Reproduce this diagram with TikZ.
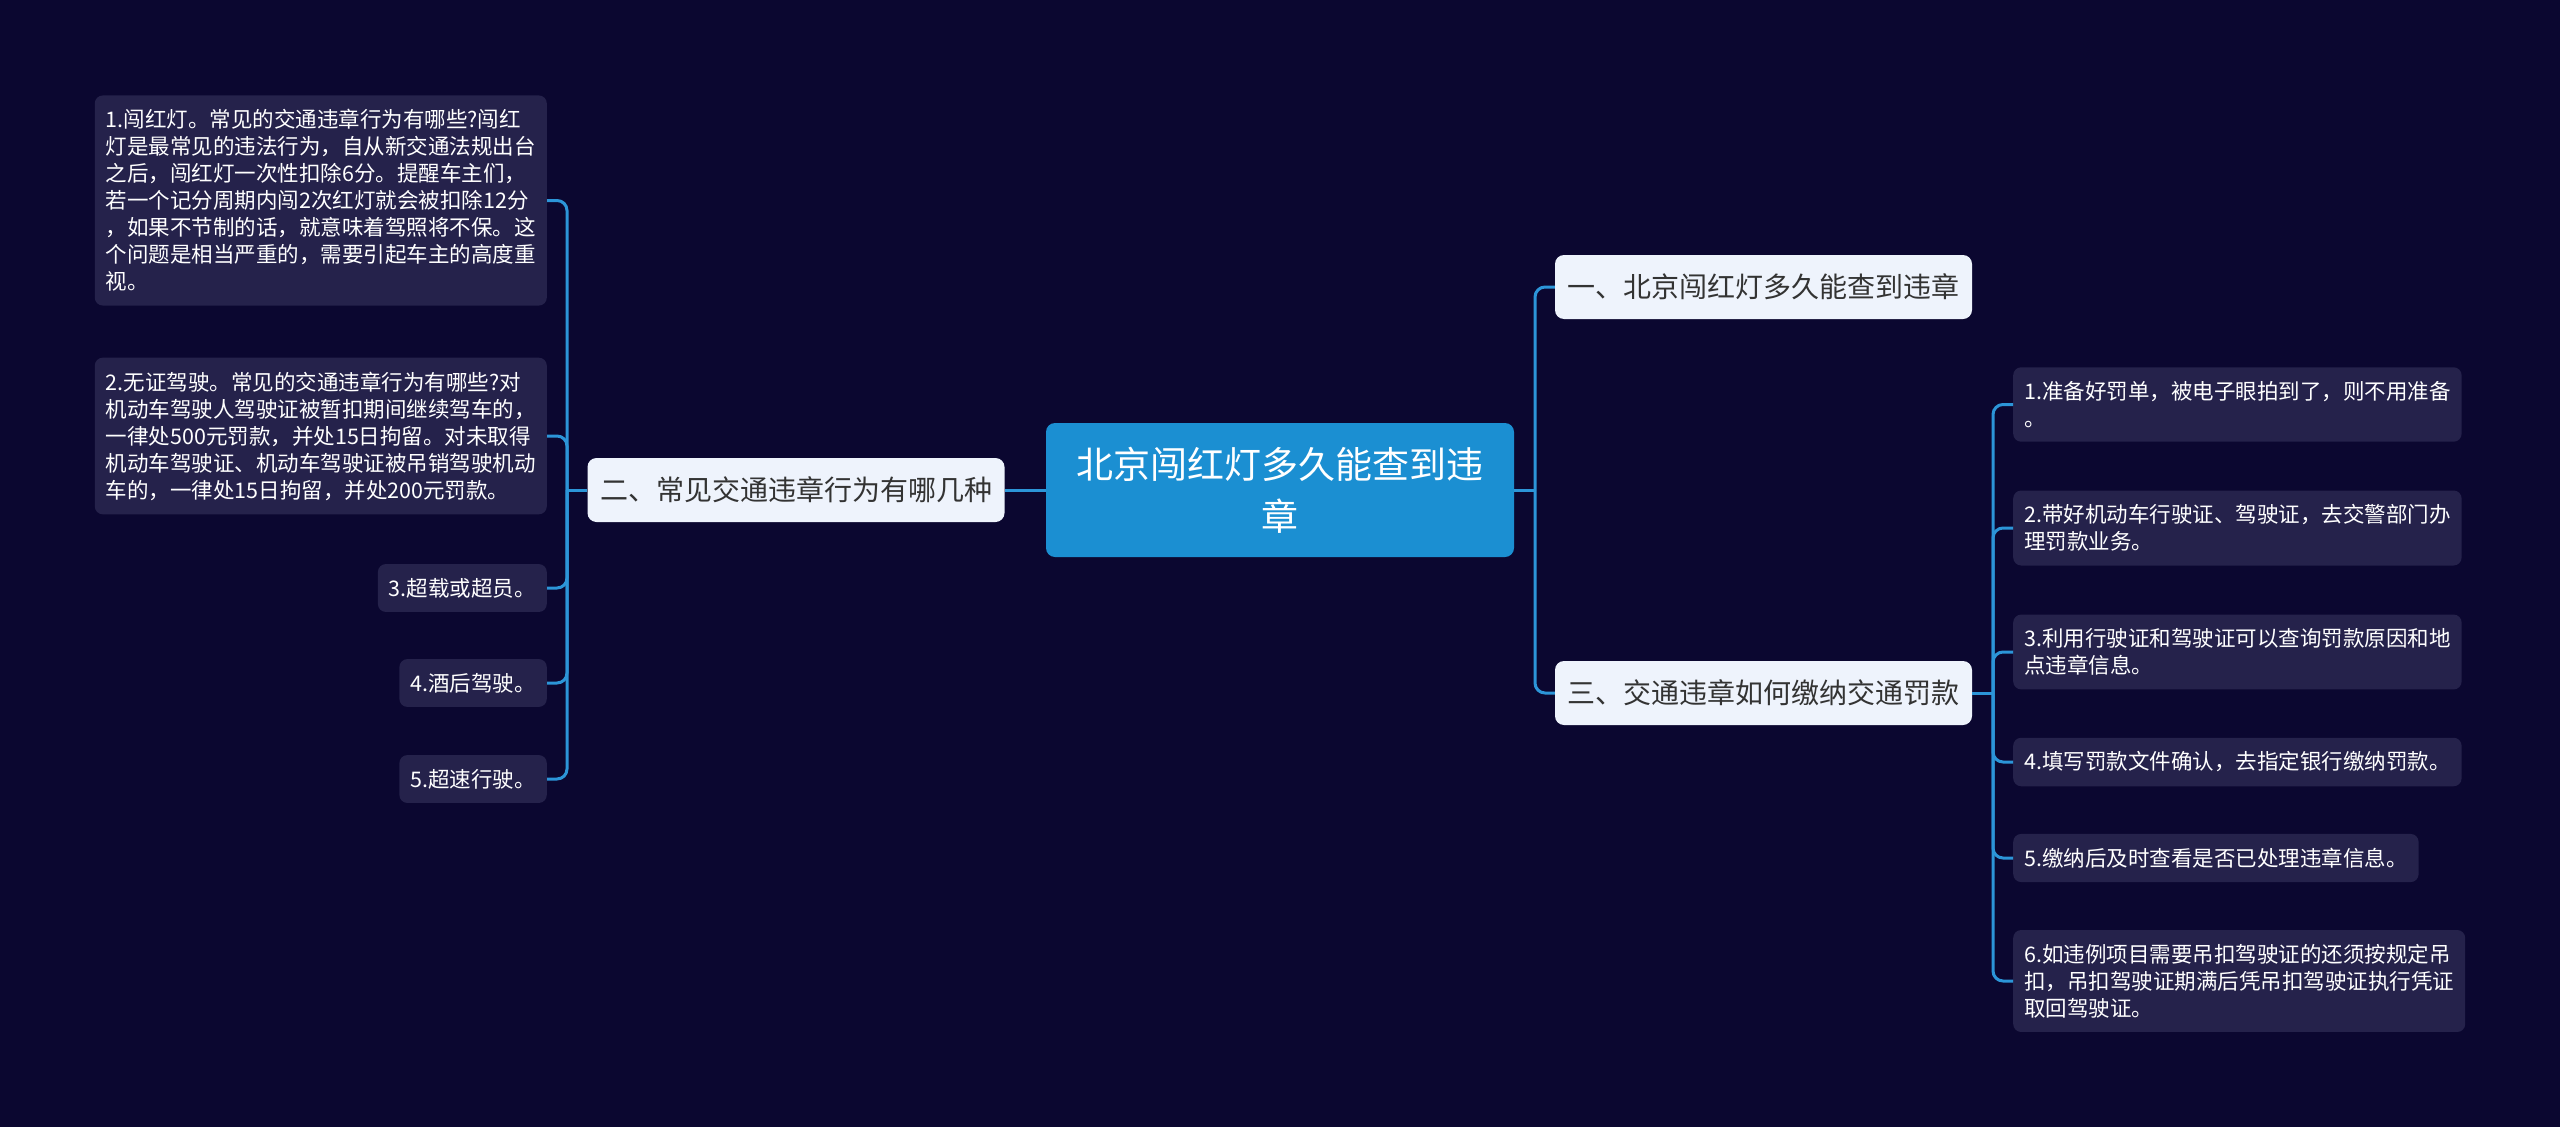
\documentclass[tikz,border=0pt]{standalone}
\usepackage{fontspec}
\setmainfont{Noto Sans CJK SC}

\definecolor{bgnavy}{HTML}{0B0730}
\definecolor{leaffill}{HTML}{25224B}
\definecolor{topicfill}{HTML}{EEF3FC}
\definecolor{rootblue}{HTML}{1B8FD2}
\definecolor{linkblue}{HTML}{2C95D8}
\definecolor{topictext}{HTML}{333333}

\begin{document}
\begin{tikzpicture}[
    x=1pt, y=-1pt,
    root/.style={fill=rootblue, text=white, rounded corners=9pt, align=center,
        minimum width=468pt, minimum height=134pt,
        font=\fontsize{37pt}{52pt}\selectfont},
    topic/.style={fill=topicfill, text=topictext, rounded corners=9pt,
        inner xsep=12.5pt, minimum height=64pt,
        font=\fontsize{28pt}{34pt}\selectfont},
    leaf/.style={fill=leaffill, text=white, rounded corners=8pt, align=left,
        inner xsep=11pt, inner ysep=14pt,
        font=\fontsize{21.5pt}{27pt}\selectfont},
    link/.style={draw=linkblue, line width=3pt, rounded corners=10pt},
]
    \useasboundingbox (0,0) rectangle (2560,1127);
    \fill[bgnavy] (0,0) rectangle (2560,1127);

    \node[root] (root) at (1280,490) {北京闯红灯多久能查到违\\章};

    \node[topic] (t1) at (1763.5,287) {一、北京闯红灯多久能查到违章};
    \node[topic] (t2) at (796,490) {二、常见交通违章行为有哪几种};
    \node[topic] (t3) at (1763.5,693) {三、交通违章如何缴纳交通罚款};

    % left leaves
    \node[leaf, anchor=east] (l1) at (547,200.5) {1.闯红灯。常见的交通违章行为有哪些?闯红\\
        灯是最常见的违法行为，自从新交通法规出台\\
        之后，闯红灯一次性扣除6分。提醒车主们，\\
        若一个记分周期内闯2次红灯就会被扣除12分\\
        ，如果不节制的话，就意味着驾照将不保。这\\
        个问题是相当严重的，需要引起车主的高度重\\
        视。};
    \node[leaf, anchor=east] (l2) at (547,436) {2.无证驾驶。常见的交通违章行为有哪些?对\\
        机动车驾驶人驾驶证被暂扣期间继续驾车的，\\
        一律处500元罚款，并处15日拘留。对未取得\\
        机动车驾驶证、机动车驾驶证被吊销驾驶机动\\
        车的，一律处15日拘留，并处200元罚款。};
    \node[leaf, anchor=east] (l3) at (547,588) {3.超载或超员。};
    \node[leaf, anchor=east] (l4) at (547,683) {4.酒后驾驶。};
    \node[leaf, anchor=east] (l5) at (547,779) {5.超速行驶。};

    % right leaves
    \node[leaf, anchor=west] (r1) at (2013,404.5) {1.准备好罚单，被电子眼拍到了，则不用准备\\。};
    \node[leaf, anchor=west] (r2) at (2013,528) {2.带好机动车行驶证、驾驶证，去交警部门办\\理罚款业务。};
    \node[leaf, anchor=west] (r3) at (2013,652) {3.利用行驶证和驾驶证可以查询罚款原因和地\\点违章信息。};
    \node[leaf, anchor=west] (r4) at (2013,762) {4.填写罚款文件确认，去指定银行缴纳罚款。};
    \node[leaf, anchor=west] (r5) at (2013,858) {5.缴纳后及时查看是否已处理违章信息。};
    \node[leaf, anchor=west] (r6) at (2013,981) {6.如违例项目需要吊扣驾驶证的还须按规定吊\\
        扣，吊扣驾驶证期满后凭吊扣驾驶证执行凭证\\
        取回驾驶证。};

    % connectors
    \coordinate (rspine) at (1535,490);
    \coordinate (lspine) at (567,490);
    \coordinate (sspine) at (1993,693);

    \draw[link] (root.east) -- (rspine);
    \draw[link] (rspine) |- (t1.west);
    \draw[link] (rspine) |- (t3.west);

    \draw[link] (root.west) -- (t2.east);
    \draw[link] (t2.west) -- (lspine);
    \foreach \i in {1,...,5}
        \draw[link] (lspine) |- (l\i.east);

    \draw[link] (t3.east) -- (sspine);
    \foreach \i in {1,...,6}
        \draw[link] (sspine) |- (r\i.west);
\end{tikzpicture}
\end{document}
